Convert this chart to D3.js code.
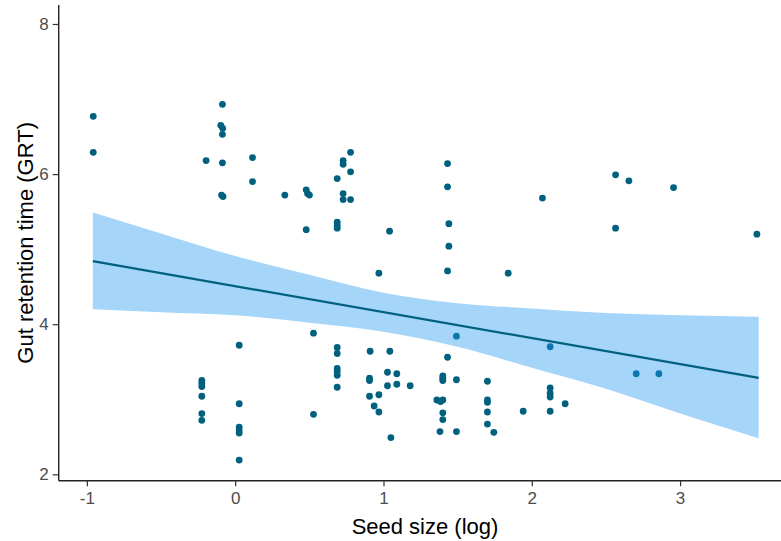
<!DOCTYPE html>
<html>
<head>
<meta charset="utf-8">
<script src="https://cdn.jsdelivr.net/npm/d3@7"></script>
<style>
  html, body { margin: 0; padding: 0; background: #ffffff; }
  svg { display: block; }
</style>
</head>
<body>
<svg id="chart" width="781" height="541"></svg>
<script>
// ---- data ----
const seedSize = [
  -0.957, -0.957, -0.196, -0.086, -0.097, -0.084, -0.086, -0.086, -0.092, -0.082,
  0.117, 0.117, -0.225, -0.225, -0.225, -0.225, -0.225, -0.225,
  0.027, 0.027, 0.027, 0.027, 0.027, 0.027,
  0.335, 0.479, 0.488, 0.501, 0.479, 0.688, 0.688, 0.688, 0.688,
  0.728, 0.728, 0.778, 0.778, 0.728, 0.728, 0.778,
  1.041, 0.969, 1.432, 1.432, 1.441, 1.441, 1.432, 1.841,
  2.072, 2.565, 2.655, 2.956, 2.565, 3.518,
  0.528, 0.528, 0.688, 0.688, 0.688, 0.688, 0.688, 0.688,
  0.910, 1.043, 0.906, 0.906, 0.906, 0.969, 0.937, 0.969,
  1.027, 1.090, 1.027, 1.090, 1.180, 1.050,
  1.492, 1.432, 1.400, 1.400, 1.400, 1.492, 1.360, 1.400, 1.385, 1.400, 1.400,
  1.381, 1.492, 1.701, 1.701, 1.701, 1.701, 1.701, 1.744,
  2.124, 2.124, 2.124, 2.124, 1.942, 2.124, 2.225, 2.704, 2.857
];
const gutRetention = [
  6.77, 6.29, 6.18, 6.93, 6.65, 6.61, 6.53, 6.15, 5.72, 5.70,
  6.22, 5.90, 3.25, 3.21, 3.17, 3.04, 2.81, 2.72,
  3.72, 2.94, 2.63, 2.59, 2.55, 2.19,
  5.72, 5.79, 5.74, 5.72, 5.26, 5.94, 5.36, 5.32, 5.28,
  6.18, 6.13, 6.29, 6.03, 5.74, 5.66, 5.66,
  5.24, 4.68, 6.14, 5.83, 5.34, 5.04, 4.71, 4.68,
  5.68, 5.99, 5.91, 5.82, 5.28, 5.20,
  3.88, 2.80, 3.69, 3.61, 3.41, 3.37, 3.32, 3.16,
  3.64, 3.64, 3.28, 3.25, 3.04, 3.06, 2.91, 2.83,
  3.36, 3.34, 3.18, 3.20, 3.18, 2.49,
  3.84, 3.56, 3.31, 3.28, 3.25, 3.26, 2.99, 2.99, 2.97, 2.82, 2.73,
  2.57, 2.57, 3.24, 2.99, 2.96, 2.83, 2.67, 2.56,
  3.70, 3.15, 3.08, 3.03, 2.84, 2.84, 2.94, 3.34, 3.34
];

// fitted line and confidence band
const fitX = [-0.96, 3.53];
const fitY = [4.84, 3.285];
const bandX = [-0.96, -0.5, 0, 0.5, 1, 1.5, 2, 2.5, 3, 3.53];
const bandLow = [4.20, 4.16, 4.12, 4.02, 3.90, 3.70, 3.42, 3.14, 2.81, 2.48];
const bandHigh = [5.49, 5.21, 4.91, 4.66, 4.42, 4.28, 4.21, 4.15, 4.12, 4.10];

const xTicks = [-1, 0, 1, 2, 3];
const yTicks = [2, 4, 6, 8];
const xTitle = "Seed size (log)";
const yTitle = "Gut retention time (GRT)";

// ---- drawing ----
const svg = d3.select("#chart");
const pLeft = 58.7, pRight = 791.3, pTop = 5, pBottom = 480.7;
const x = d3.scaleLinear().domain([-1.19, 3.75]).range([pLeft, pRight]);
const y = d3.scaleLinear().domain([1.915, 8.253]).range([pBottom, pTop]);

const pointColor = "#00617F";
const font = "'Liberation Sans', Arial, sans-serif";

const points = seedSize.map((v, i) => ({ x: v, y: gutRetention[i] }));
svg.append("g")
  .selectAll("circle")
  .data(points)
  .join("circle")
  .attr("cx", d => x(d.x))
  .attr("cy", d => y(d.y))
  .attr("r", 3.4)
  .attr("fill", pointColor);

const band = bandX.map((v, i) => ({ x: v, lo: bandLow[i], hi: bandHigh[i] }));
svg.append("path")
  .datum(band)
  .attr("d", d3.area()
    .x(d => x(d.x))
    .y0(d => y(d.lo))
    .y1(d => y(d.hi))
    .curve(d3.curveMonotoneX))
  .attr("fill", "#2196F3")
  .attr("fill-opacity", 0.4);

const fit = fitX.map((v, i) => ({ x: v, y: fitY[i] }));
svg.append("path")
  .datum(fit)
  .attr("d", d3.line().x(d => x(d.x)).y(d => y(d.y)))
  .attr("fill", "none")
  .attr("stroke", pointColor)
  .attr("stroke-width", 2.2);

// axes
const fmt = d => String(d);
const xAxis = svg.append("g")
  .attr("transform", `translate(0,${pBottom})`)
  .call(d3.axisBottom(x).tickValues(xTicks).tickFormat(fmt).tickSize(5.5).tickPadding(6));
const yAxis = svg.append("g")
  .attr("transform", `translate(${pLeft},0)`)
  .call(d3.axisLeft(y).tickValues(yTicks).tickFormat(fmt).tickSize(6).tickPadding(4));

[xAxis, yAxis].forEach(g => {
  g.select(".domain").attr("stroke", "#222").attr("stroke-width", 1.4);
  g.selectAll(".tick line").attr("stroke", "#333").attr("stroke-width", 1.2);
  g.selectAll(".tick text")
    .attr("fill", "#4D4D4D")
    .style("font-family", font)
    .style("font-size", "17px");
});
xAxis.select(".domain").attr("d", `M${pLeft},0H${pRight}`);
yAxis.select(".domain").attr("d", `M0,${pBottom}V${pTop}`);

svg.append("text")
  .attr("x", (pLeft + pRight) / 2)
  .attr("y", 534)
  .attr("text-anchor", "middle")
  .style("font-family", font)
  .style("font-size", "22px")
  .attr("fill", "#000")
  .text(xTitle);

svg.append("text")
  .attr("transform", `translate(33,${(pTop + pBottom) / 2}) rotate(-90)`)
  .attr("text-anchor", "middle")
  .style("font-family", font)
  .style("font-size", "22px")
  .attr("fill", "#000")
  .text(yTitle);
</script>
</body>
</html>
